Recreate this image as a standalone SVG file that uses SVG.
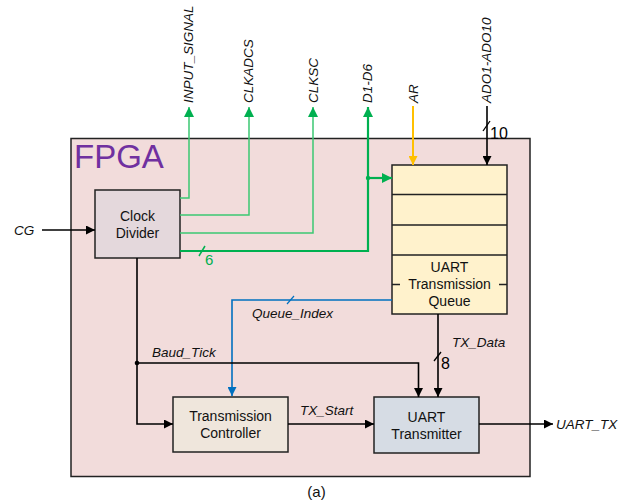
<svg xmlns="http://www.w3.org/2000/svg" width="633" height="504" viewBox="0 0 633 504">
<defs>
<marker id="ab" viewBox="0 0 10 10" refX="10" refY="5" markerWidth="14" markerHeight="9" markerUnits="userSpaceOnUse" orient="auto"><path d="M0,0L10,5L0,10z" fill="#000"/></marker>
<marker id="ag" viewBox="0 0 10 10" refX="10" refY="5" markerWidth="15" markerHeight="10" markerUnits="userSpaceOnUse" orient="auto"><path d="M0,0L10,5L0,10z" fill="#00b050"/></marker>
<marker id="ao" viewBox="0 0 10 10" refX="10" refY="5" markerWidth="14" markerHeight="9" markerUnits="userSpaceOnUse" orient="auto"><path d="M0,0L10,5L0,10z" fill="#ffc000"/></marker>
<marker id="al" viewBox="0 0 10 10" refX="10" refY="5" markerWidth="14" markerHeight="9" markerUnits="userSpaceOnUse" orient="auto"><path d="M0,0L10,5L0,10z" fill="#0070c0"/></marker>
</defs>
<style>
.box{stroke:#222;stroke-width:1.5}
.t{font-family:"Liberation Sans",Arial,sans-serif;font-size:14px;fill:#111;text-anchor:middle}
.l{font-family:"Liberation Sans",Arial,sans-serif;font-size:13.5px;font-style:italic;fill:#111}
.v{font-family:"Liberation Sans",Arial,sans-serif;font-size:13.5px;font-style:italic;fill:#111}
.k{fill:none;stroke:#000;stroke-width:1.6}
.gl{fill:none;stroke:#3cc873;stroke-width:1.5}
.gd{fill:none;stroke:#00b050;stroke-width:2.2}
</style>
<g id="fpga">
<rect x="71" y="138.5" width="459" height="338" fill="#f2dcdb" stroke="#222" stroke-width="1.5"/>
<text x="74" y="168" font-family="Liberation Sans,Arial,sans-serif" font-size="33" fill="#7030a0">FPGA</text>
</g>
<g id="clock-divider">
<rect class="box" x="95" y="190" width="85" height="68" fill="#e4d8dc"/>
<text class="t" x="137.5" y="221">Clock</text>
<text class="t" x="137.5" y="238">Divider</text>
</g>
<g id="uart-queue">
<rect class="box" x="392" y="165" width="115" height="149" fill="#fff2cc"/>
<path d="M392,194.5H507M392,225H507M392,255H507M392,284.5H400M499,284.5H507" stroke="#222" stroke-width="1.3" fill="none"/>
<text class="t" x="449.5" y="272">UART</text>
<text class="t" x="449.5" y="289">Transmission</text>
<text class="t" x="449.5" y="306">Queue</text>
</g>
<g id="transmission-controller">
<rect class="box" x="173" y="397" width="115" height="55" fill="#efe6dc"/>
<text class="t" x="230.5" y="421">Transmission</text>
<text class="t" x="230.5" y="438">Controller</text>
</g>
<g id="uart-transmitter">
<rect class="box" x="374" y="397" width="105" height="56" fill="#d6dce4"/>
<text class="t" x="426.5" y="422">UART</text>
<text class="t" x="426.5" y="439">Transmitter</text>
</g>
<g id="connectors">
<path class="k" d="M42,230H95" marker-end="url(#ab)"/>
<path class="gl" d="M180,198H189V107" marker-end="url(#ag)"/>
<path class="gl" d="M180,215H249V107" marker-end="url(#ag)"/>
<path class="gl" d="M180,233H313V107" marker-end="url(#ag)"/>
<path class="gd" d="M180,251H368V107" marker-end="url(#ag)"/>
<path class="gd" d="M368,178H392" marker-end="url(#ag)"/>
<circle cx="368" cy="178" r="2.2" fill="#00b050"/>
<path d="M199,256L205,246" stroke="#00b050" stroke-width="1.5"/>
<path d="M413,106V165" fill="none" stroke="#ffc000" stroke-width="2" marker-end="url(#ao)"/>
<path class="k" d="M487,106V165" marker-end="url(#ab)"/>
<path d="M483,131L490,121" stroke="#000" stroke-width="1.3"/>
<path d="M392,300H232V396" fill="none" stroke="#0070c0" stroke-width="1.6" marker-end="url(#al)"/>
<path d="M287,304L294,296" stroke="#0070c0" stroke-width="1.2"/>
<path class="k" d="M137,258V424H173" marker-end="url(#ab)"/>
<circle cx="137" cy="363" r="2.3" fill="#000"/>
<path class="k" d="M137,363H418.5V397" marker-end="url(#ab)"/>
<path class="k" d="M288,424H374" marker-end="url(#ab)"/>
<path class="k" d="M438,314V397" marker-end="url(#ab)"/>
<path d="M434,361L441,352" stroke="#000" stroke-width="1.3"/>
<path class="k" d="M479,424H553" marker-end="url(#ab)"/>
</g>
<g id="labels">
<text class="l" x="14" y="235">CG</text>
<text class="v" transform="translate(193,103) rotate(-90)">INPUT_SIGNAL</text>
<text class="v" transform="translate(253,103) rotate(-90)">CLKADCS</text>
<text class="v" transform="translate(318,103) rotate(-90)">CLKSC</text>
<text class="v" transform="translate(372,103) rotate(-90)">D1-D6</text>
<text class="v" transform="translate(418,103) rotate(-90)">AR</text>
<text class="v" transform="translate(491,103) rotate(-90)">ADO1-ADO10</text>
<text x="490" y="139" font-family="Liberation Sans,Arial,sans-serif" font-size="16" fill="#000">10</text>
<text x="205" y="265" font-family="Liberation Sans,Arial,sans-serif" font-size="15" fill="#00b050">6</text>
<text class="l" x="252" y="318">Queue_Index</text>
<text class="l" x="152" y="357">Baud_Tick</text>
<text class="l" x="300" y="415">TX_Start</text>
<text class="l" x="452" y="347">TX_Data</text>
<text x="441" y="369" font-family="Liberation Sans,Arial,sans-serif" font-size="16" fill="#000">8</text>
<text class="l" x="556" y="429">UART_TX</text>
<text x="316.5" y="497" font-family="Liberation Sans,Arial,sans-serif" font-size="15" fill="#111" text-anchor="middle">(a)</text>
</g>
</svg>
